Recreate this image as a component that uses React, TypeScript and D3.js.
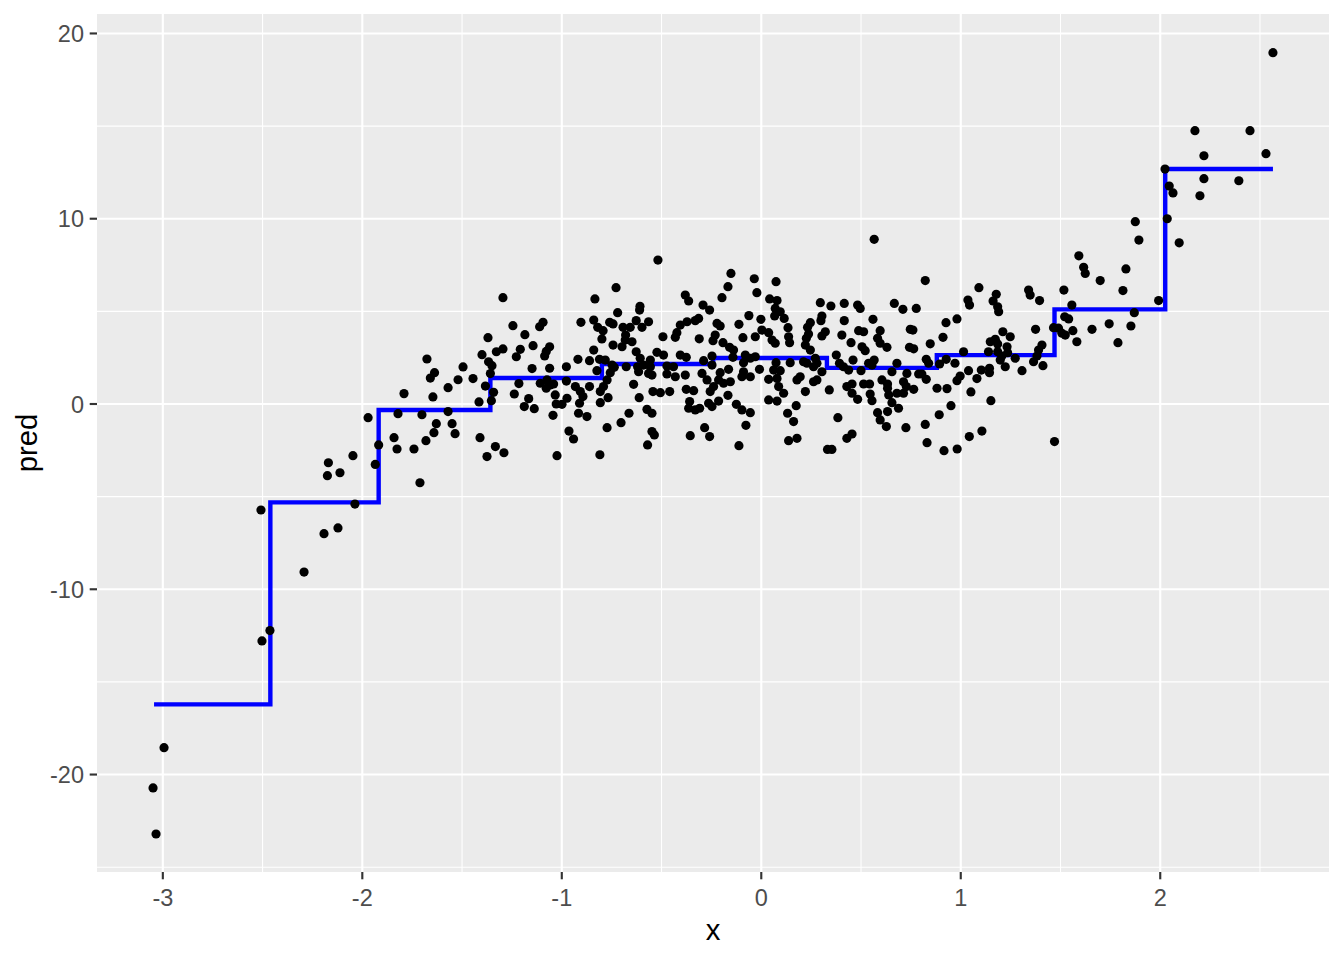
import React from "react";
import * as d3 from "d3";

// ---------- data ----------
const xTicks = [-3, -2, -1, 0, 1, 2];
const yTicks = [-20, -10, 0, 10, 20];
const xMinor = [-2.5, -1.5, -0.5, 0.5, 1.5, 2.5];
const yMinor = [-25, -15, -5, 5, 15];

// step function (bin edges and fitted values)
const stepEdges = [-3.044, -2.461, -1.918, -1.358, -0.799, -0.241, 0.329, 0.880, 1.470, 2.025, 2.565];
const stepValues = [-16.21, -5.31, -0.32, 1.40, 2.16, 2.48, 1.95, 2.64, 5.11, 12.68];

const tailPoints: [number, number][] = [
  [-2.508,-5.72],[-2.037,-5.40],[-2.122,-6.69],[-2.192,-7.00],[-2.292,-9.07],[-2.463,-12.23],[-2.503,-12.79],[-2.994,-18.55],[-3.049,-20.72],[-3.034,-23.21]
];
const binA: [number, number][] = [
  [-1.676,2.43],[-1.638,1.69],[-1.659,1.40],[-1.791,0.56],[-1.646,0.38],[-1.971,-0.74],[-1.821,-0.52],[-1.701,-0.58],[-1.629,-1.06],[-1.641,-1.55],[-1.681,-1.98],[-1.841,-1.82],[-1.918,-2.21],[-1.826,-2.43],[-1.741,-2.43],[-2.047,-2.79],[-1.935,-3.26],[-2.170,-3.17],[-2.175,-3.87],[-2.112,-3.71],[-1.711,-4.25]
];
const binB: [number, number][] = [
  [-1.295,5.74],[-1.245,4.23],[-1.185,3.74],[-1.111,4.17],[-1.094,4.41],[-1.370,3.58],[-1.400,2.66],[-1.328,2.82],[-1.295,2.97],[-1.208,2.95],[-1.228,2.55],[-1.144,3.15],[-1.061,3.09],[-1.078,2.84],[-1.086,2.59],[-1.367,2.28],[-1.350,2.07],[-1.495,2.00],[-1.358,1.64],[-1.149,1.91],[-1.061,1.93],[-1.520,1.31],[-1.445,1.37],[-1.570,0.88],[-1.383,0.97],[-1.215,1.10],[-1.108,1.12],[-1.074,1.30],[-1.058,1.03],[-1.078,0.85],[-1.041,1.08],[-1.342,0.63],[-1.238,0.54],[-1.166,0.29],[-1.033,0.49],[-1.028,0.00],[-1.353,0.18],[-1.415,0.11],[-1.188,-0.14],[-1.138,-0.25],[-1.570,-0.41],[-1.550,-1.06],[-1.535,-1.60],[-1.044,-0.61],[-1.410,-1.82],[-1.333,-2.30],[-1.290,-2.63],[-1.375,-2.84],[-1.024,-2.79]
];
const binC: [number, number][] = [
  [-0.518,7.77],[-0.728,6.28],[-0.834,5.67],[-0.608,5.27],[-0.610,5.07],[-0.720,4.93],[-0.904,4.41],[-0.840,4.53],[-0.820,4.14],[-0.793,3.96],[-0.760,4.41],[-0.743,4.32],[-0.693,4.14],[-0.657,4.14],[-0.627,4.50],[-0.598,4.14],[-0.565,4.44],[-0.799,3.51],[-0.680,3.72],[-0.682,3.45],[-0.743,3.18],[-0.698,3.09],[-0.648,3.36],[-0.493,3.63],[-0.431,3.60],[-0.423,3.85],[-0.840,2.91],[-0.627,2.82],[-0.523,2.79],[-0.490,2.64],[-0.919,2.41],[-0.861,2.34],[-0.811,2.41],[-0.782,2.37],[-0.607,2.47],[-0.556,2.37],[-0.977,2.01],[-0.748,2.10],[-0.737,1.98],[-0.677,2.01],[-0.620,2.01],[-0.590,2.10],[-0.556,2.01],[-0.473,2.05],[-0.440,2.01],[-0.824,1.80],[-0.757,1.69],[-0.615,1.74],[-0.565,1.65],[-0.548,1.56],[-0.473,1.62],[-0.431,1.47],[-0.977,1.24],[-0.773,1.30],[-0.861,0.94],[-0.932,0.94],[-0.640,1.06],[-0.791,0.94],[-0.807,0.67],[-0.543,0.67],[-0.506,0.61],[-0.459,0.67],[-0.907,0.67],[-0.894,0.40],[-0.974,0.31],[-0.999,-0.02],[-0.911,0.04],[-0.768,0.34],[-0.807,0.07],[-0.612,0.34],[-0.916,-0.50],[-0.874,-0.68],[-0.663,-0.50],[-0.573,-0.29],[-0.548,-0.50],[-0.703,-1.01],[-0.773,-1.28],[-0.964,-1.46],[-0.941,-1.89],[-0.548,-1.49],[-0.536,-1.67],[-0.570,-2.21],[-0.809,-2.74]
];
const binD: [number, number][] = [
  [-0.152,7.05],[-0.035,6.76],[0.074,6.60],[-0.167,6.33],[-0.022,6.01],[-0.197,5.74],[-0.381,5.88],[-0.364,5.56],[-0.292,5.34],[-0.259,5.07],[0.042,5.67],[0.079,5.58],[0.070,5.16],[0.095,4.98],[0.067,4.75],[0.115,4.62],[-0.062,4.77],[-0.002,4.57],[-0.406,4.26],[-0.372,4.44],[-0.331,4.50],[-0.314,4.62],[-0.222,4.35],[-0.206,4.21],[-0.112,4.30],[0.134,4.12],[-0.311,3.52],[-0.231,3.72],[-0.242,3.42],[-0.092,3.58],[-0.030,3.63],[0.003,3.99],[0.037,3.85],[0.054,3.45],[0.070,3.28],[0.137,3.63],[0.142,3.31],[-0.192,3.31],[-0.159,3.06],[-0.139,2.91],[-0.406,2.64],[-0.376,2.52],[-0.247,2.59],[-0.142,2.52],[-0.080,2.64],[-0.055,2.47],[-0.030,2.55],[-0.289,2.34],[-0.247,2.10],[-0.089,2.23],[0.074,2.23],[0.145,2.23],[-0.164,1.87],[-0.009,1.87],[0.062,1.83],[0.095,1.80],[-0.381,1.56],[-0.297,1.65],[-0.272,1.30],[-0.206,1.69],[-0.089,1.74],[-0.097,1.47],[-0.055,1.47],[-0.214,1.30],[-0.155,1.20],[-0.189,1.12],[0.037,1.33],[0.079,1.38],[0.179,1.30],[0.087,0.94],[-0.376,0.79],[-0.339,0.72],[-0.239,0.94],[-0.256,0.67],[-0.167,0.47],[0.112,0.58],[-0.359,0.13],[-0.364,-0.23],[-0.331,-0.32],[-0.309,-0.23],[-0.264,0.04],[-0.247,-0.14],[-0.214,0.16],[-0.125,-0.02],[-0.097,-0.32],[-0.055,-0.47],[0.037,0.22],[0.079,0.16],[0.175,-0.09],[0.132,-0.50],[0.162,-0.95],[-0.077,-1.15],[-0.284,-1.28],[-0.259,-1.76],[-0.356,-1.71],[-0.112,-2.25],[0.137,-1.98],[0.179,-1.85]
];
const binE: [number, number][] = [
  [0.566,8.89],[0.296,5.47],[0.349,5.29],[0.416,5.43],[0.483,5.34],[0.496,5.16],[0.667,5.43],[0.710,5.11],[0.777,5.16],[0.246,4.39],[0.232,4.14],[0.304,4.75],[0.299,4.50],[0.416,4.50],[0.560,4.57],[0.237,3.78],[0.226,3.55],[0.321,3.90],[0.304,3.67],[0.404,3.72],[0.488,3.96],[0.513,3.90],[0.596,3.96],[0.583,3.55],[0.596,3.28],[0.630,3.06],[0.747,4.03],[0.760,3.99],[0.450,3.31],[0.505,3.09],[0.521,2.88],[0.743,3.06],[0.764,2.98],[0.221,3.18],[0.246,2.91],[0.376,2.64],[0.212,2.28],[0.229,2.20],[0.271,2.47],[0.279,2.20],[0.262,2.01],[0.304,1.74],[0.392,2.20],[0.412,2.01],[0.438,1.83],[0.460,2.37],[0.500,1.80],[0.538,2.20],[0.566,2.37],[0.555,2.10],[0.680,2.20],[0.655,1.74],[0.730,1.65],[0.789,1.62],[0.195,1.47],[0.262,1.20],[0.279,1.30],[0.221,0.67],[0.341,0.76],[0.429,0.94],[0.455,1.08],[0.513,1.08],[0.543,1.08],[0.605,1.30],[0.633,1.08],[0.633,0.85],[0.713,1.20],[0.727,0.94],[0.764,0.79],[0.713,0.58],[0.455,0.58],[0.483,0.25],[0.546,0.54],[0.555,0.18],[0.639,0.49],[0.655,0.07],[0.680,0.58],[0.688,-0.23],[0.583,-0.47],[0.596,-0.86],[0.627,-1.22],[0.633,-0.41],[0.384,-0.74],[0.725,-1.28],[0.429,-1.85],[0.455,-1.62],[0.332,-2.45],[0.354,-2.45]
];
const binF: [number, number][] = [
  [0.822,6.66],[1.091,6.28],[1.178,5.92],[1.162,5.56],[1.185,5.25],[1.190,4.98],[1.036,5.61],[1.044,5.34],[1.340,6.15],[1.348,5.88],[1.395,5.58],[0.981,4.59],[0.926,4.39],[0.911,3.60],[0.847,3.25],[1.375,4.03],[1.211,3.90],[1.248,3.63],[1.148,3.36],[1.173,3.49],[1.185,3.24],[1.232,3.09],[1.014,2.82],[1.139,2.82],[1.185,2.82],[1.206,2.59],[1.235,2.77],[1.198,2.37],[1.223,2.01],[1.273,2.47],[1.365,2.28],[1.390,2.91],[1.382,2.59],[0.827,2.41],[0.839,2.20],[0.894,2.16],[0.927,2.41],[0.971,2.20],[1.307,1.80],[1.039,1.80],[1.103,1.83],[1.144,1.93],[1.144,1.69],[1.081,1.37],[0.997,1.51],[0.981,1.26],[0.805,1.62],[0.827,1.33],[0.881,0.85],[0.931,0.83],[1.051,0.65],[1.151,0.18],[0.951,-0.09],[0.892,-0.58],[0.822,-1.10],[1.106,-1.46],[1.043,-1.76],[0.831,-2.09],[0.916,-2.52],[0.982,-2.43]
];
const binG: [number, number][] = [
  [1.875,9.84],[1.893,8.85],[1.592,8.00],[1.616,7.38],[1.624,7.05],[1.828,7.29],[1.699,6.66],[1.813,6.12],[1.517,6.15],[1.557,5.34],[1.992,5.58],[1.521,4.71],[1.541,4.59],[1.870,4.93],[1.744,4.33],[1.853,4.21],[1.465,4.12],[1.490,4.09],[1.507,3.82],[1.524,3.72],[1.562,3.96],[1.658,4.03],[1.582,3.36],[1.788,3.31],[1.407,3.18],[1.412,2.07],[1.470,-2.03]
];
const binH: [number, number][] = [
  [2.565,18.96],[2.174,14.75],[2.450,14.75],[2.219,13.40],[2.530,13.51],[2.024,12.68],[2.219,12.16],[2.394,12.05],[2.045,11.76],[2.064,11.39],[2.199,11.24],[2.035,10.00],[2.095,8.70]
];

const allPoints = [...tailPoints, ...binA, ...binB, ...binC, ...binD, ...binE, ...binF, ...binG, ...binH];

// ---------- layout ----------
const W = 1344, H = 960;
const panel = { left: 97, top: 14, right: 1329, bottom: 872 };
const FONT = "'Liberation Sans', Arial, Helvetica, sans-serif";

export default function App() {
  const x = d3.scaleLinear().domain([-3.33, 2.846]).range([panel.left, panel.right]);
  const y = d3.scaleLinear().domain([-25.26, 21.05]).range([panel.bottom, panel.top]);

  const stepData: [number, number][] = stepEdges.map((e, i) => [e, stepValues[Math.min(i, stepValues.length - 1)]]);
  const stepLine = d3.line<[number, number]>()
    .x(d => x(d[0]))
    .y(d => y(d[1]))
    .curve(d3.curveStepAfter);

  return (
    <svg width={W} height={H} style={{ position: "absolute", left: 0, top: 0, background: "#fff" }} fontFamily={FONT}>
      <rect x={panel.left} y={panel.top} width={panel.right - panel.left} height={panel.bottom - panel.top} fill="#EBEBEB" />
      {xMinor.map(v => (
        <line key={"xm" + v} x1={x(v)} x2={x(v)} y1={panel.top} y2={panel.bottom} stroke="#fff" strokeWidth={1.07} />
      ))}
      {yMinor.map(v => (
        <line key={"ym" + v} y1={y(v)} y2={y(v)} x1={panel.left} x2={panel.right} stroke="#fff" strokeWidth={1.07} />
      ))}
      {xTicks.map(v => (
        <line key={"xg" + v} x1={x(v)} x2={x(v)} y1={panel.top} y2={panel.bottom} stroke="#fff" strokeWidth={2.13} />
      ))}
      {yTicks.map(v => (
        <line key={"yg" + v} y1={y(v)} y2={y(v)} x1={panel.left} x2={panel.right} stroke="#fff" strokeWidth={2.13} />
      ))}

      <path d={stepLine(stepData) || ""} fill="none" stroke="#0000FF" strokeWidth={4.4} />

      {allPoints.map((p, i) => (
        <circle key={i} cx={x(p[0])} cy={y(p[1])} r={4.6} fill="#000" />
      ))}

      {/* axes ticks */}
      {xTicks.map(v => (
        <g key={"xt" + v}>
          <line x1={x(v)} x2={x(v)} y1={panel.bottom} y2={panel.bottom + 7.3} stroke="#333333" strokeWidth={2.13} />
          <text x={x(v)} y={906} textAnchor="middle" fontSize={23.5} fill="#4D4D4D">{v}</text>
        </g>
      ))}
      {yTicks.map(v => (
        <g key={"yt" + v}>
          <line x1={panel.left - 7.3} x2={panel.left} y1={y(v)} y2={y(v)} stroke="#333333" strokeWidth={2.13} />
          <text x={84} y={y(v) + 8.6} textAnchor="end" fontSize={23.5} fill="#4D4D4D">{v}</text>
        </g>
      ))}

      <text x={(panel.left + panel.right) / 2} y={940} textAnchor="middle" fontSize={29.3} fill="#000">x</text>
      <text transform={`translate(37,${(panel.top + panel.bottom) / 2}) rotate(-90)`} textAnchor="middle" fontSize={29.3} fill="#000">pred</text>
    </svg>
  );
}
